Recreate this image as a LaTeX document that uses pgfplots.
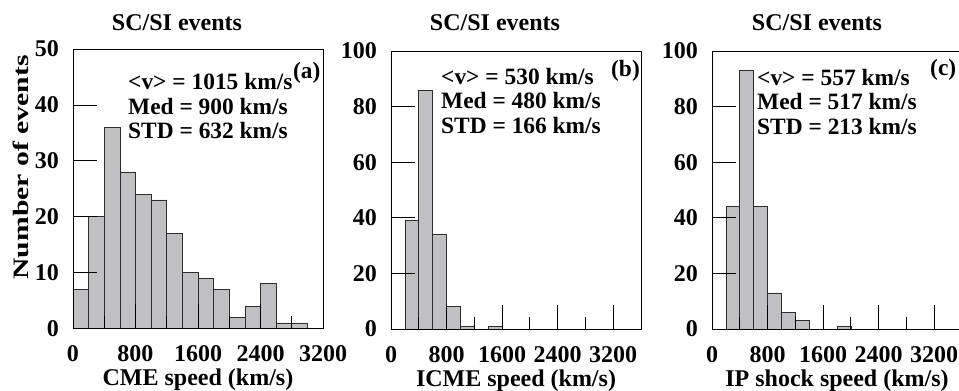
\documentclass[border=0pt]{standalone}
\usepackage{fontspec}
\setmainfont{Liberation Serif}
\usepackage{pgfplots}
\pgfplotsset{compat=1.18}
\definecolor{barfill}{RGB}{192,192,194}
\definecolor{baredge}{RGB}{45,45,45}
\newcommand{\fs}{\bfseries\fontsize{22}{26}\selectfont}
\newcommand{\ft}{\bfseries\fontsize{24}{28}\selectfont}
\newcommand{\fl}{\bfseries\fontsize{24}{28}\selectfont}
\newcommand{\fa}{\bfseries\fontsize{23.4}{27}\selectfont}
\pgfplotsset{
  hist/.style={
    scale only axis, width=250pt, anchor=south west,
    xmin=0, ymin=0, enlargelimits=false,
    axis on top,
    xtick={0,800,1600,2400,3200},
    minor xtick={400,1200,2000,2800},
    xtick pos=left, ytick pos=left,
    tick align=inside,
    major tick length=24pt, minor tick length=12pt,
    every tick/.style={black, line width=0.8pt},
    axis line style={line width=0.9pt},
    /pgf/number format/assume math mode=true,
    /pgf/number format/1000 sep={},
    ticklabel style={font=\ft, inner sep=0pt},
    xticklabel style={yshift=-17pt},
    yticklabel style={xshift=-14pt},
    xlabel style={font=\fl, at={(axis description cs:0.5,0)}, anchor=center, yshift=-51.5pt},
  },
  bars/.style={ybar interval, fill=barfill, draw=baredge, line width=0.7pt},
}
\begin{document}
\begin{tikzpicture}
\useasboundingbox (0,0) rectangle (959pt,391pt);
% Panel (a)
\begin{axis}[hist, at={(73pt,62.5pt)}, height=279.5pt, xmax=3200, ymax=50,
  ytick={0,10,20,30,40,50}, xlabel={CME speed (km/s)}]
\addplot[bars] coordinates {(0,7)(200,20)(400,36)(600,28)(800,24)(1000,23)(1200,17)(1400,10)(1600,9)(1800,7)(2000,2)(2200,4)(2400,8)(2600,1)(2800,1)(3000,0)};
\end{axis}
% Panel (b)
\begin{axis}[hist, at={(391pt,62pt)}, height=278pt, xmax=3600, ymax=100,
  ytick={0,20,40,60,80,100}, xlabel={ICME speed (km/s)}]
\addplot[bars] coordinates {(200,39)(400,86)(600,34)(800,8)(1000,1)(1200,0)(1400,1)(1600,0)};
\end{axis}
% Panel (c)
\begin{axis}[hist, at={(712pt,62pt)}, height=278pt, xmax=3600, ymax=100,
  ytick={0,20,40,60,80,100}, xlabel={IP shock speed (km/s)}]
\addplot[bars] coordinates {(200,44)(400,93)(600,44)(800,13)(1000,6)(1200,3)(1400,0)(1600,0)(1800,1)(2000,0)};
\end{axis}
% y label
\node[rotate=90, font=\fs, inner sep=0pt] at (20.5pt,223.5pt) {\scalebox{1.35}[1]{Number of events}};
% titles
\node[anchor=base, font=\fl, inner sep=0pt] at (177pt,360pt) {SC/SI events};
\node[anchor=base, font=\fl, inner sep=0pt] at (495pt,360pt) {SC/SI events};
\node[anchor=base, font=\fl, inner sep=0pt] at (817pt,360pt) {SC/SI events};
% annotations (a)
\node[anchor=base west, font=\fa, inner sep=0pt] at (128pt,301pt) {\textless v\textgreater\ = 1015 km/s};
\node[anchor=base west, font=\fa, inner sep=0pt] at (128pt,276.7pt) {Med = 900 km/s};
\node[anchor=base west, font=\fa, inner sep=0pt] at (128pt,252.7pt) {STD = 632 km/s};
\node[anchor=base west, font=\fa, inner sep=0pt] at (293pt,312.3pt) {(a)};
% annotations (b)
\node[anchor=base west, font=\fa, inner sep=0pt] at (441pt,306.7pt) {\textless v\textgreater\ = 530 km/s};
\node[anchor=base west, font=\fa, inner sep=0pt] at (441pt,282.7pt) {Med = 480 km/s};
\node[anchor=base west, font=\fa, inner sep=0pt] at (441pt,257.7pt) {STD = 166 km/s};
\node[anchor=base west, font=\fa, inner sep=0pt] at (611pt,314pt) {(b)};
% annotations (c)
\node[anchor=base west, font=\fa, inner sep=0pt] at (757pt,305.3pt) {\textless v\textgreater\ = 557 km/s};
\node[anchor=base west, font=\fa, inner sep=0pt] at (757pt,281pt) {Med = 517 km/s};
\node[anchor=base west, font=\fa, inner sep=0pt] at (757pt,256pt) {STD = 213 km/s};
\node[anchor=base west, font=\fa, inner sep=0pt] at (930pt,315.7pt) {(c)};
\end{tikzpicture}
\end{document}
